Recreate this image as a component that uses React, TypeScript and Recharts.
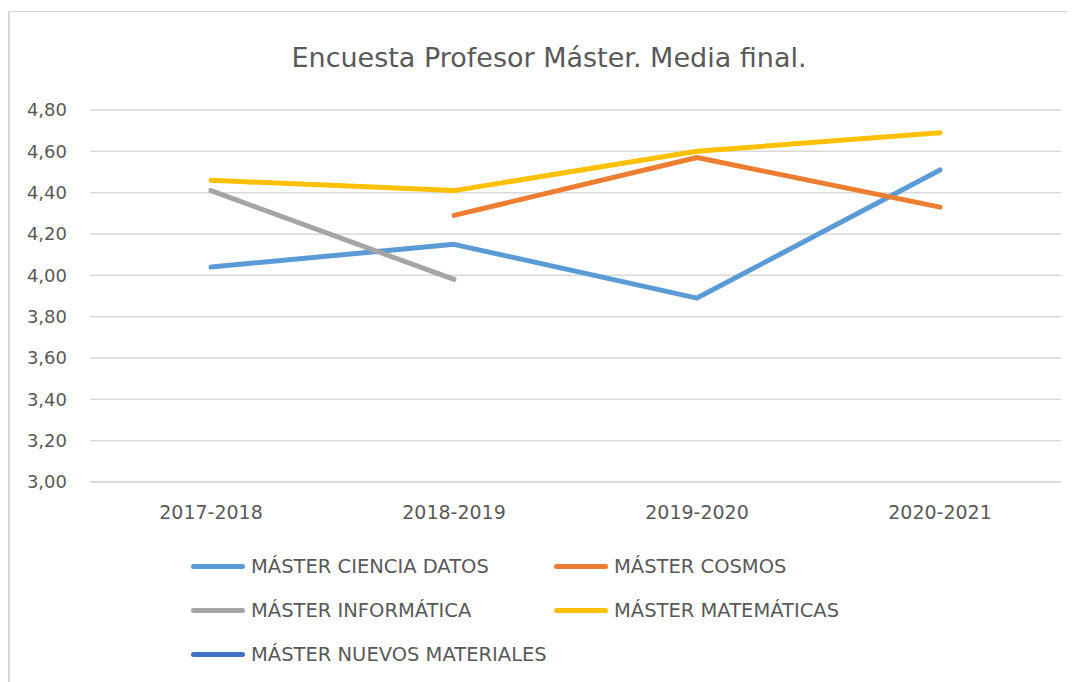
import React from 'react';
import { LineChart, Line, XAxis, YAxis, CartesianGrid, Legend } from 'recharts';

const cursos = ['2017-2018', '2018-2019', '2019-2020', '2020-2021'];
const cienciaDatos = [4.04, 4.15, 3.89, 4.51];
const cosmos = [null, 4.29, 4.57, 4.33];
const informatica = [4.41, 3.98, null, null];
const matematicas = [4.46, 4.41, 4.6, 4.69];
const nuevosMateriales = [null, null, null, null];
const yTicks = [3.0, 3.2, 3.4, 3.6, 3.8, 4.0, 4.2, 4.4, 4.6, 4.8];

const series = [
  { key: 'cienciaDatos', name: 'MÁSTER CIENCIA DATOS', color: '#5B9BD5', values: cienciaDatos },
  { key: 'cosmos', name: 'MÁSTER COSMOS', color: '#ED7D31', values: cosmos },
  { key: 'informatica', name: 'MÁSTER INFORMÁTICA', color: '#A5A5A5', values: informatica },
  { key: 'matematicas', name: 'MÁSTER MATEMÁTICAS', color: '#FFC000', values: matematicas },
  { key: 'nuevosMateriales', name: 'MÁSTER NUEVOS MATERIALES', color: '#4472C4', values: nuevosMateriales },
];

const data = cursos.map((c, i) => {
  const row: Record<string, any> = { curso: c };
  series.forEach((s) => { row[s.key] = s.values[i]; });
  return row;
});

const font = '"DejaVu Sans", Verdana, sans-serif';
const textColor = '#595959';

function LegendBox() {
  return (
    <div style={{ position: 'absolute', left: 183, top: 543, width: 700, fontFamily: font, fontSize: 19.5, color: textColor }}>
      {series.map((s, i) => (
        <div
          key={s.key}
          style={{
            position: 'absolute',
            left: (i % 2) * 363,
            top: Math.floor(i / 2) * 44,
            display: 'flex',
            alignItems: 'center',
            height: 24,
            whiteSpace: 'nowrap',
          }}
        >
          <span style={{ display: 'inline-block', width: 54, height: 5, borderRadius: 3, background: s.color, marginRight: 6 }} />
          <span>{s.name}</span>
        </div>
      ))}
    </div>
  );
}

export default function App() {
  return (
    <div style={{ position: 'relative', width: 1075, height: 682, marginTop: 3 }}>
      <div
        style={{
          position: 'absolute',
          left: 0,
          top: 0,
          width: 1080,
          height: 700,
          borderTop: '1px solid #d9d9d9',
          borderLeft: '2px solid #d9d9d9',
          background: '#fff',
        }}
      />
      <div
        style={{
          position: 'absolute',
          left: 0,
          top: 31,
          width: 1082,
          textAlign: 'center',
          fontFamily: font,
          fontSize: 27,
          color: textColor,
        }}
      >
        Encuesta Profesor Máster. Media final.
      </div>
      <div style={{ position: 'absolute', left: 0, top: 0 }}>
        <LineChart width={1067} height={581} data={data} margin={{ top: 99, right: 14, left: 12, bottom: 80 }}>
          <CartesianGrid vertical={false} stroke="#d9d9d9" strokeWidth={1.5} />
          <XAxis
            dataKey="curso"
            padding={{ left: 121, right: 121 }}
            axisLine={{ stroke: '#d9d9d9', strokeWidth: 1.5 }}
            tickLine={false}
            tickMargin={18}
            tick={{ fill: textColor, fontSize: 19, fontFamily: font }}
          />
          <YAxis
            domain={[3, 4.8]}
            ticks={yTicks}
            interval={0}
            width={70}
            axisLine={false}
            tickLine={false}
            tickMargin={17}
            tick={{ fill: textColor, fontSize: 18, fontFamily: font }}
            tickFormatter={(v: number) => v.toFixed(2).replace('.', ',')}
          />
          <Legend content={() => null} />
          {series.map((s) => (
            <Line
              key={s.key}
              type="linear"
              dataKey={s.key}
              name={s.name}
              stroke={s.color}
              strokeWidth={5}
              strokeLinecap="round"
              strokeLinejoin="round"
              dot={false}
              activeDot={false}
              isAnimationActive={false}
            />
          ))}
        </LineChart>
      </div>
      <LegendBox />
    </div>
  );
}
